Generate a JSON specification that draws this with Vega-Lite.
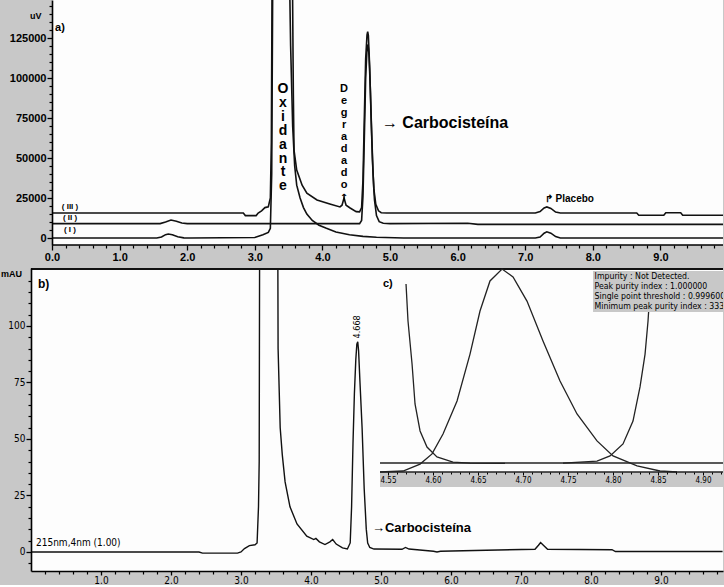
{
  "$schema": "https://vega.github.io/schema/vega-lite/v6.json",
  "background": "#c8c8c8",
  "padding": 0,
  "columns": 1,
  "align": "none",
  "spacing": 6,
  "config": {
    "view": {"stroke": null, "fill": "#fdfdfd"},
    "font": "Liberation Sans",
    "axis": {"labelColor": "#000", "tickColor": "#000", "domainColor": "#000", "grid": false}
  },
  "datasets": {
    "a": [
      {"trace": "I", "t": 0, "v": 0}, {"trace": "I", "t": 1.55, "v": 0}, {"trace": "I", "t": 1.62, "v": 600}, {"trace": "I", "t": 1.68, "v": 2100}, {"trace": "I", "t": 1.72, "v": 2500}, {"trace": "I", "t": 1.78, "v": 2000}, {"trace": "I", "t": 1.86, "v": 800}, {"trace": "I", "t": 1.95, "v": 100}, {"trace": "I", "t": 2.05, "v": 0}, {"trace": "I", "t": 3.0, "v": 300}, {"trace": "I", "t": 3.12, "v": 2000}, {"trace": "I", "t": 3.2, "v": 3500}, {"trace": "I", "t": 3.23, "v": 6000}, {"trace": "I", "t": 3.25, "v": 40000}, {"trace": "I", "t": 3.27, "v": 200000}, {"trace": "I", "t": 3.5, "v": 200000}, {"trace": "I", "t": 3.53, "v": 120000}, {"trace": "I", "t": 3.56, "v": 70000}, {"trace": "I", "t": 3.59, "v": 45000}, {"trace": "I", "t": 3.62, "v": 33000}, {"trace": "I", "t": 3.67, "v": 25000}, {"trace": "I", "t": 3.72, "v": 19000}, {"trace": "I", "t": 3.77, "v": 15000}, {"trace": "I", "t": 3.85, "v": 11000}, {"trace": "I", "t": 3.95, "v": 8000}, {"trace": "I", "t": 4.05, "v": 6200}, {"trace": "I", "t": 4.2, "v": 3800}, {"trace": "I", "t": 4.4, "v": 2000}, {"trace": "I", "t": 4.6, "v": 1000}, {"trace": "I", "t": 4.8, "v": 500}, {"trace": "I", "t": 5.2, "v": 0}, {"trace": "I", "t": 7.15, "v": 0}, {"trace": "I", "t": 7.22, "v": 600}, {"trace": "I", "t": 7.28, "v": 3000}, {"trace": "I", "t": 7.32, "v": 3900}, {"trace": "I", "t": 7.38, "v": 3000}, {"trace": "I", "t": 7.45, "v": 900}, {"trace": "I", "t": 7.52, "v": 0}, {"trace": "I", "t": 9.94, "v": 0},
      {"trace": "II", "t": 0, "v": 9000}, {"trace": "II", "t": 1.6, "v": 9000}, {"trace": "II", "t": 1.68, "v": 10000}, {"trace": "II", "t": 1.76, "v": 11200}, {"trace": "II", "t": 1.84, "v": 10500}, {"trace": "II", "t": 1.92, "v": 9400}, {"trace": "II", "t": 2.0, "v": 9000}, {"trace": "II", "t": 4.55, "v": 9000}, {"trace": "II", "t": 4.58, "v": 11000}, {"trace": "II", "t": 4.6, "v": 26000}, {"trace": "II", "t": 4.62, "v": 62000}, {"trace": "II", "t": 4.64, "v": 100000}, {"trace": "II", "t": 4.66, "v": 118000}, {"trace": "II", "t": 4.675, "v": 121000}, {"trace": "II", "t": 4.69, "v": 114000}, {"trace": "II", "t": 4.71, "v": 92000}, {"trace": "II", "t": 4.73, "v": 64000}, {"trace": "II", "t": 4.75, "v": 40000}, {"trace": "II", "t": 4.77, "v": 24000}, {"trace": "II", "t": 4.8, "v": 14000}, {"trace": "II", "t": 4.84, "v": 10200}, {"trace": "II", "t": 4.9, "v": 9200}, {"trace": "II", "t": 5.0, "v": 9000}, {"trace": "II", "t": 6.15, "v": 9200}, {"trace": "II", "t": 6.3, "v": 8500}, {"trace": "II", "t": 9.94, "v": 8500},
      {"trace": "III", "t": 0, "v": 15600}, {"trace": "III", "t": 2.83, "v": 15600}, {"trace": "III", "t": 2.86, "v": 14000}, {"trace": "III", "t": 3.02, "v": 14000}, {"trace": "III", "t": 3.05, "v": 15600}, {"trace": "III", "t": 3.1, "v": 17000}, {"trace": "III", "t": 3.15, "v": 19000}, {"trace": "III", "t": 3.2, "v": 19500}, {"trace": "III", "t": 3.23, "v": 25000}, {"trace": "III", "t": 3.245, "v": 60000}, {"trace": "III", "t": 3.26, "v": 200000}, {"trace": "III", "t": 3.55, "v": 200000}, {"trace": "III", "t": 3.57, "v": 90000}, {"trace": "III", "t": 3.58, "v": 55000}, {"trace": "III", "t": 3.62, "v": 42500}, {"trace": "III", "t": 3.7, "v": 33000}, {"trace": "III", "t": 3.77, "v": 28000}, {"trace": "III", "t": 3.92, "v": 23750}, {"trace": "III", "t": 4.11, "v": 21250}, {"trace": "III", "t": 4.26, "v": 19400}, {"trace": "III", "t": 4.29, "v": 20500}, {"trace": "III", "t": 4.32, "v": 25000}, {"trace": "III", "t": 4.35, "v": 20500}, {"trace": "III", "t": 4.41, "v": 18750}, {"trace": "III", "t": 4.5, "v": 16500}, {"trace": "III", "t": 4.55, "v": 16300}, {"trace": "III", "t": 4.58, "v": 19000}, {"trace": "III", "t": 4.6, "v": 36000}, {"trace": "III", "t": 4.62, "v": 75000}, {"trace": "III", "t": 4.64, "v": 112000}, {"trace": "III", "t": 4.66, "v": 127000}, {"trace": "III", "t": 4.67, "v": 129000}, {"trace": "III", "t": 4.68, "v": 126500}, {"trace": "III", "t": 4.7, "v": 106000}, {"trace": "III", "t": 4.72, "v": 76000}, {"trace": "III", "t": 4.74, "v": 49000}, {"trace": "III", "t": 4.76, "v": 31000}, {"trace": "III", "t": 4.79, "v": 21000}, {"trace": "III", "t": 4.83, "v": 17000}, {"trace": "III", "t": 4.87, "v": 15800}, {"trace": "III", "t": 4.95, "v": 15600}, {"trace": "III", "t": 7.15, "v": 15600}, {"trace": "III", "t": 7.22, "v": 16500}, {"trace": "III", "t": 7.28, "v": 18800}, {"trace": "III", "t": 7.32, "v": 19400}, {"trace": "III", "t": 7.38, "v": 18500}, {"trace": "III", "t": 7.45, "v": 16200}, {"trace": "III", "t": 7.52, "v": 15600}, {"trace": "III", "t": 8.65, "v": 15600}, {"trace": "III", "t": 8.68, "v": 14200}, {"trace": "III", "t": 9.05, "v": 14200}, {"trace": "III", "t": 9.08, "v": 15800}, {"trace": "III", "t": 9.3, "v": 15800}, {"trace": "III", "t": 9.33, "v": 14200}, {"trace": "III", "t": 9.94, "v": 14200}
    ],
    "b": [
      {"t": 0, "v": 0}, {"t": 2.4, "v": 0}, {"t": 2.45, "v": -0.5}, {"t": 2.95, "v": -0.5}, {"t": 3.0, "v": 0}, {"t": 3.05, "v": 1.5}, {"t": 3.12, "v": 2.8}, {"t": 3.2, "v": 3.2}, {"t": 3.23, "v": 4}, {"t": 3.25, "v": 20}, {"t": 3.26, "v": 40}, {"t": 3.27, "v": 200}, {"t": 3.52, "v": 200}, {"t": 3.53, "v": 90}, {"t": 3.56, "v": 55}, {"t": 3.59, "v": 43}, {"t": 3.63, "v": 31}, {"t": 3.7, "v": 20}, {"t": 3.8, "v": 12.4}, {"t": 3.94, "v": 7}, {"t": 4.04, "v": 5.5}, {"t": 4.07, "v": 6}, {"t": 4.12, "v": 4.5}, {"t": 4.2, "v": 3.3}, {"t": 4.27, "v": 4.5}, {"t": 4.31, "v": 5.5}, {"t": 4.36, "v": 3.5}, {"t": 4.45, "v": 1.8}, {"t": 4.52, "v": 1.3}, {"t": 4.56, "v": 4}, {"t": 4.58, "v": 20}, {"t": 4.6, "v": 48}, {"t": 4.62, "v": 70}, {"t": 4.64, "v": 85}, {"t": 4.655, "v": 92}, {"t": 4.668, "v": 93}, {"t": 4.68, "v": 89}, {"t": 4.7, "v": 75}, {"t": 4.73, "v": 55}, {"t": 4.76, "v": 28}, {"t": 4.79, "v": 10}, {"t": 4.81, "v": 4}, {"t": 4.84, "v": 2}, {"t": 4.9, "v": 1.3}, {"t": 5.3, "v": 1.2}, {"t": 5.35, "v": 2.0}, {"t": 5.4, "v": 1.3}, {"t": 5.75, "v": 0.3}, {"t": 5.8, "v": 0}, {"t": 5.85, "v": 0.3}, {"t": 6.5, "v": 0.8}, {"t": 7.2, "v": 1.2}, {"t": 7.25, "v": 3.0}, {"t": 7.28, "v": 4.2}, {"t": 7.32, "v": 3.0}, {"t": 7.38, "v": 1.2}, {"t": 8.3, "v": 1.0}, {"t": 8.35, "v": 0.2}, {"t": 9.88, "v": 0.2}
    ],
    "c": [
      {"curve": "peak", "t": 4.5411, "v": 0}, {"curve": "peak", "t": 4.5667, "v": 0.5}, {"curve": "peak", "t": 4.5856, "v": 3.9}, {"curve": "peak", "t": 4.5989, "v": 8.9}, {"curve": "peak", "t": 4.6111, "v": 18.7}, {"curve": "peak", "t": 4.6267, "v": 35.0}, {"curve": "peak", "t": 4.6411, "v": 58.1}, {"curve": "peak", "t": 4.6522, "v": 79.3}, {"curve": "peak", "t": 4.6633, "v": 94.1}, {"curve": "peak", "t": 4.6767, "v": 100}, {"curve": "peak", "t": 4.6889, "v": 96.1}, {"curve": "peak", "t": 4.7044, "v": 84.2}, {"curve": "peak", "t": 4.7222, "v": 64.5}, {"curve": "peak", "t": 4.7411, "v": 44.8}, {"curve": "peak", "t": 4.76, "v": 28.6}, {"curve": "peak", "t": 4.7822, "v": 15.3}, {"curve": "peak", "t": 4.8, "v": 7.9}, {"curve": "peak", "t": 4.8267, "v": 3.0}, {"curve": "peak", "t": 4.8522, "v": 0.5}, {"curve": "peak", "t": 4.8711, "v": 0},
      {"curve": "left", "t": 4.57, "v": 92.6}, {"curve": "left", "t": 4.5722, "v": 74.4}, {"curve": "left", "t": 4.5767, "v": 53.2}, {"curve": "left", "t": 4.58, "v": 33.5}, {"curve": "left", "t": 4.5856, "v": 20.2}, {"curve": "left", "t": 4.5933, "v": 12.3}, {"curve": "left", "t": 4.6044, "v": 7.4}, {"curve": "left", "t": 4.6222, "v": 4.9}, {"curve": "left", "t": 4.6411, "v": 4.4}, {"curve": "left", "t": 4.68, "v": 4.2},
      {"curve": "right", "t": 4.7444, "v": 4.4}, {"curve": "right", "t": 4.7822, "v": 5.4}, {"curve": "right", "t": 4.7967, "v": 7.9}, {"curve": "right", "t": 4.8111, "v": 13.8}, {"curve": "right", "t": 4.8222, "v": 25.1}, {"curve": "right", "t": 4.83, "v": 41.9}, {"curve": "right", "t": 4.8356, "v": 58.1}, {"curve": "right", "t": 4.8389, "v": 74.4}, {"curve": "right", "t": 4.84, "v": 82}
    ]
  },
  "concat": [
    {
      "width": 692,
      "height": 245,
      "layer": [
        {"data": {"values": [{}]}, "mark": {"type": "rect", "color": "#c8c8c8"},
          "encoding": {
            "x": {"datum": -0.3107, "type": "quantitative", "scale": {"domain": [-0.3107, 9.926], "nice": false, "zero": false}, "axis": null},
            "x2": {"datum": 0},
            "y": {"datum": -4375, "type": "quantitative", "scale": {"domain": [-4375, 148750], "nice": false, "zero": false}, "axis": null},
            "y2": {"datum": 148750}
          }},
        {
          "data": {"name": "a"},
          "mark": {"type": "line", "clip": true, "color": "#111", "strokeWidth": 1.6},
          "encoding": {
            "x": {"field": "t", "type": "quantitative",
              "axis": {"orient": "bottom", "zindex": 2, "title": null, "domain": false, "values": [0, 1, 2, 3, 4, 5, 6, 7, 8, 9], "format": ".1f", "labelFontWeight": "bold", "labelFontSize": 11, "tickSize": 5, "tickWidth": 1.3, "labelPadding": 1}},
            "y": {"field": "v", "type": "quantitative",
              "axis": {"orient": "left", "zindex": 2, "offset": -21, "title": null, "values": [0, 25000, 50000, 75000, 100000, 125000], "format": "d", "labelFontWeight": "bold", "labelFontSize": 11, "tickSize": 5, "tickWidth": 1.3, "domainWidth": 1.6, "labelPadding": 1}},
            "detail": {"field": "trace"}
          }
        },
        {
          "data": {"values": [{}]},
          "mark": {"type": "text", "text": ""},
          "encoding": {
            "x": {"datum": 0, "type": "quantitative", "axis": {"orient": "bottom", "zindex": 2, "title": null, "labels": false, "domain": false, "tickSize": 3, "tickWidth": 1.2, "values": [0.2,0.4,0.6,0.8,1.2,1.4,1.6,1.8,2.2,2.4,2.6,2.8,3.2,3.4,3.6,3.8,4.2,4.4,4.6,4.8,5.2,5.4,5.6,5.8,6.2,6.4,6.6,6.8,7.2,7.4,7.6,7.8,8.2,8.4,8.6,8.8,9.2,9.4,9.6,9.8]}},
            "y": {"datum": 0, "type": "quantitative", "axis": {"orient": "left", "zindex": 2, "offset": -21, "title": null, "labels": false, "domain": false, "tickSize": 3, "tickWidth": 1.2, "values": [5000,10000,15000,20000,30000,35000,40000,45000,55000,60000,65000,70000,80000,85000,90000,95000,105000,110000,115000,120000,130000,135000,140000,145000]}}
          }
        },
        {"data": {"values": [{}]}, "mark": {"type": "rule", "color": "#000", "strokeWidth": 1.6},
          "encoding": {"x": {"datum": 0, "type": "quantitative", "axis": null}, "x2": {"datum": 9.926}, "y": {"datum": -4375, "type": "quantitative", "axis": null}}},
        {"data": {"values": [{}]}, "mark": {"type": "text", "fontWeight": "bold", "fontSize": 9, "align": "left", "baseline": "middle"},
          "encoding": {"x": {"datum": -0.325, "type": "quantitative", "axis": null}, "y": {"datum": 138750, "type": "quantitative", "axis": null}, "text": {"value": "uV"}}},
        {"data": {"values": [{}]}, "mark": {"type": "text", "fontWeight": "bold", "fontSize": 11, "align": "left", "baseline": "middle"},
          "encoding": {"x": {"datum": 0.045, "type": "quantitative", "axis": null}, "y": {"datum": 131250, "type": "quantitative", "axis": null}, "text": {"value": "a)"}}},
        {"data": {"values": [{}]}, "mark": {"type": "text", "fontWeight": "bold", "fontSize": 8, "align": "center", "baseline": "middle"},
          "encoding": {"x": {"datum": 0.266, "type": "quantitative", "axis": null}, "y": {"datum": 19375, "type": "quantitative", "axis": null}, "text": {"value": "( III )"}}},
        {"data": {"values": [{}]}, "mark": {"type": "text", "fontWeight": "bold", "fontSize": 8, "align": "center", "baseline": "middle"},
          "encoding": {"x": {"datum": 0.266, "type": "quantitative", "axis": null}, "y": {"datum": 12500, "type": "quantitative", "axis": null}, "text": {"value": "( II )"}}},
        {"data": {"values": [{}]}, "mark": {"type": "text", "fontWeight": "bold", "fontSize": 8, "align": "center", "baseline": "middle"},
          "encoding": {"x": {"datum": 0.266, "type": "quantitative", "axis": null}, "y": {"datum": 5000, "type": "quantitative", "axis": null}, "text": {"value": "( I )"}}},
        {"data": {"values": [{}]}, "mark": {"type": "text", "fontWeight": "bold", "fontSize": 14, "align": "center", "baseline": "top", "lineHeight": 13.9},
          "encoding": {"x": {"datum": 3.417, "type": "quantitative", "axis": null}, "y": {"datum": 97500, "type": "quantitative", "axis": null}, "text": {"value": ["O", "x", "i", "d", "a", "n", "t", "e"]}}},
        {"data": {"values": [{}]}, "mark": {"type": "text", "fontWeight": "bold", "fontSize": 11, "align": "center", "baseline": "top", "lineHeight": 12},
          "encoding": {"x": {"datum": 4.32, "type": "quantitative", "axis": null}, "y": {"datum": 96875, "type": "quantitative", "axis": null}, "text": {"value": ["D", "e", "g", "r", "a", "d", "a", "d", "o"]}}},
        {"data": {"values": [{}]}, "mark": {"type": "text", "fontWeight": "bold", "fontSize": 10, "align": "center", "baseline": "middle", "font": "DejaVu Sans"},
          "encoding": {"x": {"datum": 4.32, "type": "quantitative", "axis": null}, "y": {"datum": 25000, "type": "quantitative", "axis": null}, "text": {"value": "↑"}}},
        {"data": {"values": [{}]}, "mark": {"type": "text", "fontWeight": "bold", "fontSize": 16, "align": "left", "baseline": "middle"},
          "encoding": {"x": {"datum": 4.88, "type": "quantitative", "axis": null}, "y": {"datum": 71875, "type": "quantitative", "axis": null}, "text": {"value": "→ Carbocisteína"}}},
        {"data": {"values": [{}]}, "mark": {"type": "text", "fontWeight": "bold", "fontSize": 10, "align": "left", "baseline": "middle"},
          "encoding": {"x": {"datum": 7.29, "type": "quantitative", "axis": null}, "y": {"datum": 24375, "type": "quantitative", "axis": null}, "text": {"value": "↱ Placebo"}}}
      ],
      "resolve": {"axis": {"x": "independent", "y": "independent"}}
    },
    {
      "width": 692,
      "height": 303,
      "layer": [
        {
          "layer": [
            {
              "data": {"name": "b"},
              "mark": {"type": "line", "clip": true, "color": "#111", "strokeWidth": 1.4},
              "encoding": {
                "x": {"field": "t", "type": "quantitative", "scale": {"domain": [0, 9.886], "nice": false, "zero": false},
                  "axis": {"orient": "bottom", "zindex": 2, "title": null, "values": [1, 2, 3, 4, 5, 6, 7, 8, 9], "format": ".1f", "labelFont": "Liberation Sans Narrow, DejaVu Sans Condensed, Liberation Sans", "labelFontSize": 10, "tickSize": 4, "tickWidth": 1.3, "domainWidth": 1.6, "labelPadding": 0}},
                "y": {"field": "v", "type": "quantitative", "scale": {"domain": [-8.41, 125.66], "nice": false, "zero": false},
                  "axis": {"orient": "left", "zindex": 2, "title": null, "values": [0, 25, 50, 75, 100], "labelFont": "Liberation Sans Narrow, DejaVu Sans Condensed, Liberation Sans", "labelFontSize": 10, "tickSize": 5, "tickWidth": 1.3, "domainWidth": 1.6, "labelPadding": 1, "minExtent": 31}}
              }
            },
            {
              "data": {"values": [{}]},
              "mark": {"type": "text", "text": ""},
              "encoding": {
                "x": {"datum": 0, "type": "quantitative", "axis": {"orient": "bottom", "zindex": 2, "title": null, "labels": false, "domain": false, "tickSize": 3, "tickWidth": 1.2, "values": [0.2,0.4,0.6,0.8,1.2,1.4,1.6,1.8,2.2,2.4,2.6,2.8,3.2,3.4,3.6,3.8,4.2,4.4,4.6,4.8,5.2,5.4,5.6,5.8,6.2,6.4,6.6,6.8,7.2,7.4,7.6,7.8,8.2,8.4,8.6,8.8,9.2,9.4,9.6,9.8]}},
                "y": {"datum": 0, "type": "quantitative", "axis": {"orient": "left", "zindex": 2, "title": null, "labels": false, "domain": false, "tickSize": 3, "tickWidth": 1.2, "values": [-5,5,10,15,20,30,35,40,45,55,60,65,70,80,85,90,95,105,110,115,120]}}
              }
            },
            {"data": {"values": [{}]}, "mark": {"type": "rule", "color": "#111", "strokeWidth": 2},
              "encoding": {"x": {"datum": 0, "type": "quantitative", "axis": null}, "x2": {"datum": 9.886}, "y": {"datum": 125.2, "type": "quantitative", "axis": null}}},
            {"data": {"values": [{}]}, "mark": {"type": "text", "fontWeight": "bold", "fontSize": 9, "align": "left", "baseline": "top"},
              "encoding": {"x": {"datum": -0.4286, "type": "quantitative", "axis": null}, "y": {"datum": 124.8, "type": "quantitative", "axis": null}, "text": {"value": "mAU"}}},
            {"data": {"values": [{}]}, "mark": {"type": "text", "fontWeight": "bold", "fontSize": 12, "align": "left", "baseline": "middle"},
              "encoding": {"x": {"datum": 0.1, "type": "quantitative", "axis": null}, "y": {"datum": 118.6, "type": "quantitative", "axis": null}, "text": {"value": "b)"}}},
            {"data": {"values": [{}]}, "mark": {"type": "text", "fontSize": 10, "align": "left", "baseline": "middle", "font": "Liberation Sans Narrow, DejaVu Sans Condensed, Liberation Sans"},
              "encoding": {"x": {"datum": 0.0714, "type": "quantitative", "axis": null}, "y": {"datum": 4.0, "type": "quantitative", "axis": null}, "text": {"value": "215nm,4nm (1.00)"}}},
            {"data": {"values": [{}]}, "mark": {"type": "text", "fontSize": 9, "align": "center", "baseline": "middle", "angle": 270, "font": "Liberation Sans Narrow, DejaVu Sans Condensed, Liberation Sans"},
              "encoding": {"x": {"datum": 4.657, "type": "quantitative", "axis": null}, "y": {"datum": 99.6, "type": "quantitative", "axis": null}, "text": {"value": "4.668"}}},
            {"data": {"values": [{}]}, "mark": {"type": "text", "fontWeight": "bold", "fontSize": 13, "align": "left", "baseline": "middle"},
              "encoding": {"x": {"datum": 4.871, "type": "quantitative", "axis": null}, "y": {"datum": 10.6, "type": "quantitative", "axis": null}, "text": {"value": "→Carbocisteína"}}}
          ],
          "resolve": {"axis": {"x": "independent", "y": "independent"}}
        },
        {
          "layer": [
            {"data": {"values": [{}]}, "mark": {"type": "rect", "color": "#c8c8c8"},
              "encoding": {
                "x": {"datum": 4.5411, "type": "quantitative", "scale": {"domain": [4.1533, 4.9222], "nice": false, "zero": false}, "axis": null},
                "x2": {"datum": 4.9222},
                "y": {"datum": 0, "type": "quantitative", "scale": {"domain": [-48.77, 100.49], "nice": false, "zero": false}, "axis": null},
                "y2": {"datum": -7.4}
              }},
            {"data": {"values": [{}]}, "mark": {"type": "rule", "color": "#222", "strokeWidth": 1.5},
              "encoding": {"x": {"datum": 4.5411, "type": "quantitative", "axis": null}, "x2": {"datum": 4.9222}, "y": {"datum": 0, "type": "quantitative", "axis": null}}},
            {"data": {"values": [{}]}, "mark": {"type": "rule", "color": "#222", "strokeWidth": 1.6},
              "encoding": {"x": {"datum": 4.5411, "type": "quantitative", "axis": null}, "x2": {"datum": 4.9222}, "y": {"datum": 4.43, "type": "quantitative", "axis": null}}},
            {
              "data": {"name": "c"},
              "mark": {"type": "line", "clip": true, "color": "#222", "strokeWidth": 1.3},
              "encoding": {
                "x": {"field": "t", "type": "quantitative",
                  "axis": {"orient": "bottom", "zindex": 2, "offset": -99, "title": null, "domain": false, "values": [4.55, 4.6, 4.65, 4.7, 4.75, 4.8, 4.85, 4.9], "format": ".2f", "labelFont": "Liberation Sans Narrow, DejaVu Sans Condensed, Liberation Sans", "labelFontSize": 8, "tickSize": 3, "tickWidth": 1, "labelPadding": 1}},
                "y": {"field": "v", "type": "quantitative", "axis": null},
                "detail": {"field": "curve"}
              }
            },
            {
              "data": {"values": [{}]},
              "mark": {"type": "text", "text": ""},
              "encoding": {
                "x": {"datum": 4.6, "type": "quantitative", "axis": {"orient": "bottom", "zindex": 2, "offset": -99, "title": null, "labels": false, "domain": false, "tickSize": 2, "tickWidth": 1, "values": [4.56,4.57,4.58,4.59,4.61,4.62,4.63,4.64,4.66,4.67,4.68,4.69,4.71,4.72,4.73,4.74,4.76,4.77,4.78,4.79,4.81,4.82,4.83,4.84,4.86,4.87,4.88,4.89,4.91,4.92]}},
                "y": {"datum": 0, "type": "quantitative", "axis": null}
              }
            },
            {"data": {"values": [{}]}, "mark": {"type": "rect", "color": "#c8c8c8"},
              "encoding": {"x": {"datum": 4.7778, "type": "quantitative", "axis": null}, "x2": {"datum": 4.9222}, "y": {"datum": 99.0, "type": "quantitative", "axis": null}, "y2": {"datum": 78.8}}},
            {"data": {"values": [{}]}, "mark": {"type": "text", "fontSize": 8.7, "align": "left", "baseline": "top", "lineHeight": 9.8, "clip": true, "font": "Liberation Sans Narrow, DejaVu Sans Condensed, Liberation Sans"},
              "encoding": {"x": {"datum": 4.7795, "type": "quantitative", "axis": null}, "y": {"datum": 98.3, "type": "quantitative", "axis": null},
                "text": {"value": ["Impurity : Not Detected.", "Peak purity index : 1.000000", "Single point threshold : 0.999600", "Minimum peak purity index : 333"]}}},
            {"data": {"values": [{}]}, "mark": {"type": "text", "fontWeight": "bold", "fontSize": 11, "align": "left", "baseline": "middle"},
              "encoding": {"x": {"datum": 4.5444, "type": "quantitative", "axis": null}, "y": {"datum": 92.6, "type": "quantitative", "axis": null}, "text": {"value": "c)"}}}
          ],
          "resolve": {"axis": {"x": "independent", "y": "independent"}}
        }
      ],
      "resolve": {"scale": {"x": "independent", "y": "independent"}, "axis": {"x": "independent", "y": "independent"}}
    }
  ]
}
